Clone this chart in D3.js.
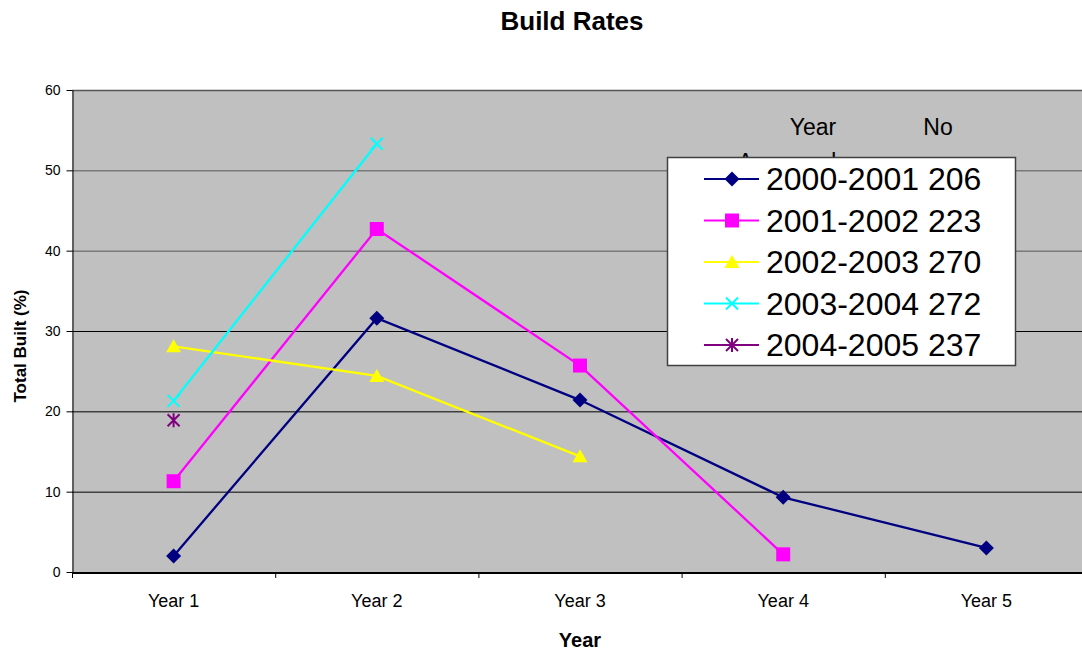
<!DOCTYPE html>
<html><head><meta charset="utf-8">
<script src="https://cdn.jsdelivr.net/npm/d3@7"></script>
<style>body{margin:0;background:#fff}svg{display:block;font-family:Arial,"Liberation Sans",sans-serif}</style>
</head><body><svg id="c" width="1082" height="653"></svg>
<script>
const categories = ["Year 1","Year 2","Year 3","Year 4","Year 5"];
const seriesNames = ["2000-2001 206","2001-2002 223","2002-2003 270","2003-2004 272","2004-2005 237"];
const s2000 = [2.0, 31.6, 21.4, 9.3, 3.0];
const s2001 = [11.3, 42.7, 25.7, 2.2, null];
const s2002 = [28.1, 24.4, 14.4, null, null];
const s2003 = [21.3, 53.3, null, null, null];
const s2004 = [18.9, null, null, null, null];
const yTicks = [0,10,20,30,40,50,60];
const colors = ["#000080","#FF00FF","#FFFF00","#00FFFF","#800080"];
const markers = ["diamond","square","triangle","cross","star"];
const allSeries = [s2000,s2001,s2002,s2003,s2004];

const svg = d3.select("#c");
const L=72, R=1088, T=90, B=572;
const x = d3.scaleBand().domain(categories).range([L,R]);
const y = d3.scaleLinear().domain([0,60]).range([B,T]);

svg.append("rect").attr("x",L).attr("y",T).attr("width",R-L).attr("height",B-T).attr("fill","#c0c0c0");
// gridlines
svg.append("g").selectAll("line").data(yTicks.filter(d=>d>0)).join("line")
  .attr("x1",L).attr("x2",R).attr("y1",d=>y(d)+0.5).attr("y2",d=>y(d)+0.5)
  .attr("stroke",d=>d>=40?"#555":"#000").attr("stroke-width",d=>d===60?1.5:1);

// y axis
const ya = svg.append("g").attr("transform",`translate(${L+0.5},0)`)
  .call(d3.axisLeft(y).tickValues(yTicks).tickSize(6).tickPadding(6).tickSizeOuter(0));
ya.select(".domain").attr("stroke","#000");
ya.selectAll("text").attr("font-size",14).attr("font-family","Arial, Liberation Sans, sans-serif").attr("fill","#000");
// x axis
const xa = svg.append("g").attr("transform",`translate(0,${B+0.5})`)
  .call(d3.axisBottom(x).tickSize(0).tickPadding(22));
xa.select(".domain").attr("stroke","#000").attr("stroke-width",2);
xa.selectAll("text").attr("font-size",18).attr("font-family","Arial, Liberation Sans, sans-serif").attr("fill","#000");
xa.selectAll(".tick line").remove();
svg.append("g").selectAll("line").data(categories).join("line")
  .attr("x1",d=>x(d)+0.5).attr("x2",d=>x(d)+0.5).attr("y1",B).attr("y2",B+6).attr("stroke","#000");

// titles
svg.append("text").attr("x",572).attr("y",30).attr("text-anchor","middle")
  .attr("font-size",26).attr("font-weight","bold").text("Build Rates");
svg.append("text").attr("x",580).attr("y",647).attr("text-anchor","middle")
  .attr("font-size",20).attr("font-weight","bold").text("Year");
svg.append("text").attr("transform","translate(26,346) rotate(-90)").attr("text-anchor","middle")
  .attr("font-size",17).attr("font-weight","bold").text("Total Built (%)");

function markerPath(type){
  switch(type){
    case "diamond": return "M0,-7.5L7.5,0L0,7.5L-7.5,0Z";
    case "square": return "M-7,-7H7V7H-7Z";
    case "triangle": return "M0,-7L7.5,6H-7.5Z";
    case "cross": return "M-6,-6L6,6M-6,6L6,-6";
    case "star": return "M-6,-6L6,6M-6,6L6,-6M0,-7V7";
  }
}
function drawMarker(g,type,color){
  const p = g.append("path").attr("d",markerPath(type));
  if(type==="cross"||type==="star") p.attr("fill","none").attr("stroke",color).attr("stroke-width",2);
  else p.attr("fill",color);
}

const line = d3.line().defined(d=>d.v!=null).x(d=>x(d.c)+x.bandwidth()/2).y(d=>y(d.v));
allSeries.forEach((s,i)=>{
  const pts = s.map((v,j)=>({c:categories[j],v}));
  svg.append("path").datum(pts).attr("d",line).attr("fill","none").attr("stroke",colors[i]).attr("stroke-width",2.3);
});
allSeries.forEach((s,i)=>{
  s.forEach((v,j)=>{
    if(v==null) return;
    const g = svg.append("g").attr("transform",`translate(${x(categories[j])+x.bandwidth()/2},${y(v)})`);
    drawMarker(g,markers[i],colors[i]);
  });
});

// legend header (partly hidden behind the legend box)
svg.append("text").attr("x",813).attr("y",135).attr("text-anchor","middle").attr("font-size",23).text("Year");
svg.append("text").attr("x",938).attr("y",135).attr("text-anchor","middle").attr("font-size",23).text("No");
svg.append("text").attr("x",787).attr("y",170).attr("text-anchor","middle").attr("font-size",23).text("Approved");

const lg = svg.append("g");
lg.append("rect").attr("x",667.5).attr("y",157.5).attr("width",348).attr("height",208).attr("fill","#fff").attr("stroke","#404040").attr("stroke-width",1.5);
seriesNames.forEach((n,i)=>{
  const cy = 179 + i*41.5;
  lg.append("line").attr("x1",704).attr("x2",759).attr("y1",cy).attr("y2",cy).attr("stroke",colors[i]).attr("stroke-width",2);
  const g = lg.append("g").attr("transform",`translate(732,${cy})`);
  drawMarker(g,markers[i],colors[i]);
  lg.append("text").attr("x",766).attr("y",cy+11).attr("font-size",32).text(n);
});
</script></body></html>
